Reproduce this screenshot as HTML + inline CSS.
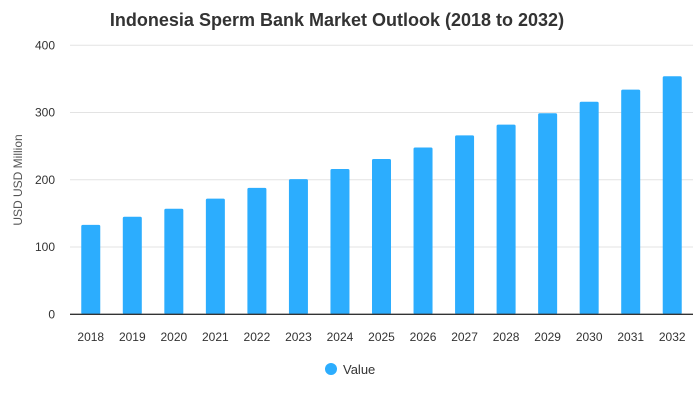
<!DOCTYPE html>
<html><head><meta charset="utf-8"><style>
body{margin:0;background:#fff;font-family:"Liberation Sans",Arial,sans-serif}
</style></head><body>
<svg id="chart" width="700" height="400" xmlns="http://www.w3.org/2000/svg">
<text x="337" y="26" text-anchor="middle" font-size="18" font-weight="bold" fill="#333">Indonesia Sperm Bank Market Outlook (2018 to 2032)</text>
<text transform="translate(22,180) rotate(-90)" text-anchor="middle" font-size="12" fill="#555">USD USD Million</text>
<g id="grid"></g><g id="bars"></g><g id="xt"></g>
<line x1="70" x2="693" y1="314.3" y2="314.3" stroke="#333" stroke-width="1.3"/>
<circle cx="331" cy="369" r="6" fill="#2cadfe"/>
<text x="343" y="374" font-size="13" fill="#333">Value</text>
</svg>
<script>
const categories=["2018","2019","2020","2021","2022","2023","2024","2025","2026","2027","2028","2029","2030","2031","2032"];
const values=[133,145,157,172,188,201,216,231,248,266,282,299,316,334,354];
const yTicks=[0,100,200,300,400];
const NS="http://www.w3.org/2000/svg";
const x0=70,x1=693,yBase=314.3,yTop=45.3,yMax=400;
const band=(x1-x0)/categories.length;
const y=v=>yBase-(v/yMax)*(yBase-yTop);
const xc=i=>x0+band*(i+0.5);
const g=document.getElementById('grid'),b=document.getElementById('bars'),xt=document.getElementById('xt');
yTicks.forEach(t=>{
  if(t>0){const l=document.createElementNS(NS,'line');
  l.setAttribute('x1',x0);l.setAttribute('x2',x1);l.setAttribute('y1',y(t));l.setAttribute('y2',y(t));
  l.setAttribute('stroke','#e3e3e3');
  
  
  g.appendChild(l);}
  const tx=document.createElementNS(NS,'text');
  tx.setAttribute('x',55);tx.setAttribute('y',y(t)+4);tx.setAttribute('text-anchor','end');
  tx.setAttribute('font-size','12');tx.setAttribute('fill','#333');tx.textContent=t;
  
  
  g.appendChild(tx);
});
const bw=19;
values.forEach((v,i)=>{
  const r=document.createElementNS(NS,'rect');
  r.setAttribute('x',xc(i)-bw/2);r.setAttribute('y',y(v));r.setAttribute('width',bw);r.setAttribute('height',yBase-y(v));
  r.setAttribute('rx','1.5');r.setAttribute('fill','#2cadfe');
  
  
  b.appendChild(r);
  const t=document.createElementNS(NS,'text');
  t.setAttribute('x',xc(i));t.setAttribute('y',341);t.setAttribute('text-anchor','middle');
  t.setAttribute('font-size','12');t.setAttribute('fill','#333');t.textContent=categories[i];
  
  
  xt.appendChild(t);
});
</script>
</body></html>
